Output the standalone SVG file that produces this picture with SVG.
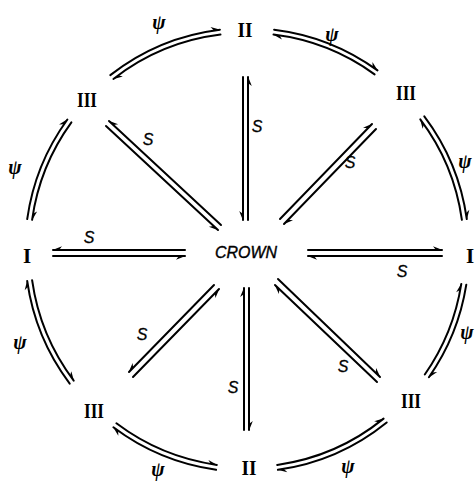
<svg xmlns="http://www.w3.org/2000/svg" width="475" height="481" viewBox="0 0 475 481">
<defs>
<style>
.ln{fill:none;stroke:#000;stroke-width:2;stroke-linecap:round}
.r{marker-end:url(#hr)}
.l{marker-end:url(#hl)}
.num{font-family:"Liberation Serif",serif;font-weight:bold;font-size:21px;text-anchor:middle;fill:#000}
.crown{font-family:"Liberation Sans",sans-serif;font-style:italic;font-size:17px;text-anchor:middle;fill:#000;stroke:#000;stroke-width:0.4}
.s{font-family:"Liberation Sans",sans-serif;font-style:italic;font-size:16px;text-anchor:middle;fill:#000;stroke:#000;stroke-width:0.3}
.psi{font-family:"Liberation Serif",serif;font-style:italic;font-weight:bold;font-size:20px;text-anchor:middle;fill:#000}
</style>
<marker id="hr" markerUnits="userSpaceOnUse" markerWidth="14" markerHeight="14" refX="0" refY="0" orient="auto" overflow="visible" viewBox="-12 -7 14 14"><path d="M0.5,0 L-9,3.8 L-6,0 Z" fill="#000"/></marker>
<marker id="hl" markerUnits="userSpaceOnUse" markerWidth="14" markerHeight="14" refX="0" refY="0" orient="auto" overflow="visible" viewBox="-12 -7 14 14"><path d="M0.5,0 L-9,-3.8 L-6,0 Z" fill="#000"/></marker>
</defs>
<g id="connectors">
<path class="ln r" d="M248,220 L248,77"/>
<path class="ln r" d="M243,77 L243,220"/>
<path class="ln r" d="M221,225 L109,121"/>
<path class="ln r" d="M106,126 L218,230"/>
<path class="ln l" d="M280,219 L372,124"/>
<path class="ln l" d="M376,129 L284,224"/>
<path class="ln r" d="M185,250 L53,250"/>
<path class="ln r" d="M53,256 L185,256"/>
<path class="ln l" d="M308,250 L442,250"/>
<path class="ln l" d="M442,256 L308,256"/>
<path class="ln r" d="M214,285 L129,372"/>
<path class="ln r" d="M133,377 L219,289"/>
<path class="ln l" d="M244,430 L244,288"/>
<path class="ln l" d="M249,288 L249,430"/>
<path class="ln l" d="M377,382 L275,285"/>
<path class="ln l" d="M278,279 L380,377"/>
<path class="ln l" d="M110.3,75.1 A222,222 0 0 1 219.9,29.7"/>
<path class="ln l" d="M220.5,34.6 A217,217 0 0 0 113.4,79"/>
<path class="ln l" d="M274.1,29.7 A222,222 0 0 1 377.5,70.4"/>
<path class="ln l" d="M374.6,74.4 A217,217 0 0 0 273.5,34.6"/>
<path class="ln l" d="M424.3,116.4 A222,222 0 0 1 466.8,219.1"/>
<path class="ln l" d="M461.9,219.8 A217,217 0 0 0 420.3,119.4"/>
<path class="ln l" d="M466.3,284.7 A222,222 0 0 1 428.9,377.3"/>
<path class="ln l" d="M424.8,374.5 A217,217 0 0 0 461.3,283.9"/>
<path class="ln l" d="M386.7,422.5 A222,222 0 0 1 277.9,469.8"/>
<path class="ln l" d="M277.2,464.9 A217,217 0 0 0 383.6,418.6"/>
<path class="ln l" d="M216.1,469.8 A222,222 0 0 1 113.4,427.3"/>
<path class="ln l" d="M116.4,423.3 A217,217 0 0 0 216.8,464.9"/>
<path class="ln l" d="M69.7,383.6 A222,222 0 0 1 27.2,280.9"/>
<path class="ln l" d="M32.1,280.2 A217,217 0 0 0 73.7,380.6"/>
<path class="ln l" d="M27.2,219.1 A222,222 0 0 1 67.4,119.5"/>
<path class="ln l" d="M71.4,122.4 A217,217 0 0 0 32.1,219.8"/>
<text class="s" x="257" y="132">S</text>
<text class="s" x="148" y="145">S</text>
<text class="s" x="350" y="168">S</text>
<text class="s" x="89" y="243">S</text>
<text class="s" x="402" y="277">S</text>
<text class="s" x="142" y="340">S</text>
<text class="s" x="233" y="393">S</text>
<text class="s" x="343" y="372">S</text>
<text class="psi" x="159" y="29">ψ</text>
<text class="psi" x="332" y="41">ψ</text>
<text class="psi" x="465" y="168">ψ</text>
<text class="psi" x="467" y="339">ψ</text>
<text class="psi" x="348" y="473">ψ</text>
<text class="psi" x="158" y="476">ψ</text>
<text class="psi" x="20" y="349">ψ</text>
<text class="psi" x="15" y="174">ψ</text>
</g>
<g id="crown"><text class="crown" x="246" y="258" textLength="62" lengthAdjust="spacingAndGlyphs">CROWN</text></g>
<g id="top-II"><text class="num" x="245" y="37" textLength="15" lengthAdjust="spacingAndGlyphs">II</text></g>
<g id="tl-III"><text class="num" x="87" y="107" textLength="20" lengthAdjust="spacingAndGlyphs">III</text></g>
<g id="tr-III"><text class="num" x="406" y="100" textLength="20" lengthAdjust="spacingAndGlyphs">III</text></g>
<g id="left-I"><text class="num" x="27" y="263">I</text></g>
<g id="right-I"><text class="num" x="466" y="263" style="text-anchor:start">I</text></g>
<g id="bl-III"><text class="num" x="94" y="418" textLength="20" lengthAdjust="spacingAndGlyphs">III</text></g>
<g id="br-III"><text class="num" x="411" y="408" textLength="20" lengthAdjust="spacingAndGlyphs">III</text></g>
<g id="bottom-II"><text class="num" x="249" y="475" textLength="15" lengthAdjust="spacingAndGlyphs">II</text></g>
</svg>
